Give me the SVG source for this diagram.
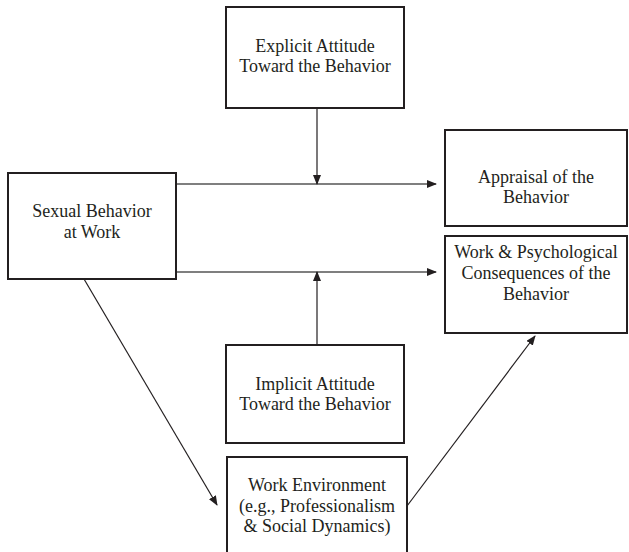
<svg xmlns="http://www.w3.org/2000/svg" width="629" height="552" viewBox="0 0 629 552">
<style>
.box{fill:#fff;stroke:#231f20;stroke-width:2}
.t{font-family:"Liberation Serif","Times New Roman",serif;font-size:18px;fill:#231f20;text-anchor:middle}
.c{fill:none;stroke:#231f20;stroke-width:1.2}
.h{fill:none;stroke:#555;stroke-width:1.6}
</style>
<defs>
<marker id="ah" markerWidth="10" markerHeight="8" refX="9" refY="4" orient="auto" markerUnits="userSpaceOnUse">
<path d="M0,0 L10,4 L0,8 Z" fill="#231f20"/>
</marker>
</defs>
<rect width="629" height="552" fill="#fff"/>
<g id="connectors">
<line class="h" x1="176" y1="184" x2="436" y2="184" marker-end="url(#ah)"/>
<line class="h" x1="176" y1="272" x2="436" y2="272" marker-end="url(#ah)"/>
<line class="c" x1="317" y1="108" x2="317" y2="184" marker-end="url(#ah)"/>
<line class="c" x1="317" y1="345" x2="317" y2="272" marker-end="url(#ah)"/>
<line class="c" x1="84" y1="279" x2="217" y2="505" marker-end="url(#ah)"/>
<line class="c" x1="407" y1="506" x2="535" y2="336" marker-end="url(#ah)"/>
</g>
<g id="explicit">
<rect class="box" x="226" y="7" width="178" height="101"/>
<text class="t" x="315" y="52">Explicit Attitude</text>
<text class="t" x="315" y="72">Toward the Behavior</text>
</g>
<g id="sexual">
<rect class="box" x="8" y="173" width="168" height="106"/>
<text class="t" x="92" y="217">Sexual Behavior</text>
<text class="t" x="92" y="238">at Work</text>
</g>
<g id="appraisal">
<rect class="box" x="445" y="130" width="182" height="96"/>
<text class="t" x="536" y="183">Appraisal of the</text>
<text class="t" x="536" y="203">Behavior</text>
</g>
<g id="consequences">
<rect class="box" x="445" y="236" width="182" height="97"/>
<text class="t" x="536" y="258">Work &amp; Psychological</text>
<text class="t" x="536" y="279">Consequences of the</text>
<text class="t" x="536" y="300">Behavior</text>
</g>
<g id="implicit">
<rect class="box" x="226" y="345" width="178" height="98"/>
<text class="t" x="315" y="390">Implicit Attitude</text>
<text class="t" x="315" y="410">Toward the Behavior</text>
</g>
<g id="environment">
<rect class="box" x="227" y="457" width="180" height="105"/>
<text class="t" x="317" y="491">Work Environment</text>
<text class="t" x="317" y="512">(e.g., Professionalism</text>
<text class="t" x="317" y="532">&amp; Social Dynamics)</text>
</g>
</svg>
